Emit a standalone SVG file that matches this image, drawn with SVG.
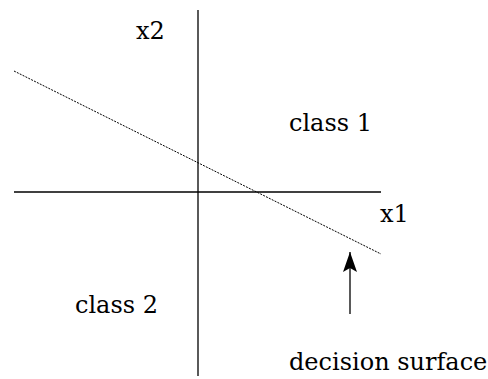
<svg xmlns="http://www.w3.org/2000/svg" width="488" height="379" viewBox="0 0 488 379">
<style>
.ax{stroke:#000;stroke-width:1.3;fill:none}
.ds{stroke:#000;stroke-width:1;stroke-dasharray:2,1.2;fill:none}
</style>
<defs>
<marker id="ah" markerWidth="20" markerHeight="14" refX="20" refY="7" orient="auto" markerUnits="userSpaceOnUse" viewBox="0 0 20 14">
<path d="M20,7 L0,0 L4,7 L0,14 Z" fill="#000"/>
</marker>
</defs>
<g id="connectors">
<line id="axis-x2" class="ax" x1="198" y1="10" x2="198" y2="376"/>
<line id="axis-x1" class="ax" x1="14" y1="192" x2="381" y2="192"/>
<line id="decision-line" class="ds" x1="14" y1="71" x2="381" y2="254"/>
<line id="pointer" class="ax" x1="350" y1="314" x2="350" y2="252" marker-end="url(#ah)"/>
</g>
<g id="label-x2"><text font-family="DejaVu Serif, serif" font-size="24" x="136" y="39">x2</text></g>
<g id="label-x1"><text font-family="DejaVu Serif, serif" font-size="24" x="380" y="222">x1</text></g>
<g id="class1"><text font-family="DejaVu Serif, serif" font-size="24" x="289" y="131">class 1</text></g>
<g id="class2"><text font-family="DejaVu Serif, serif" font-size="24" x="75" y="313">class 2</text></g>
<g id="decision-surface"><text font-family="DejaVu Serif, serif" font-size="24" x="289" y="370">decision surface</text></g>
</svg>
